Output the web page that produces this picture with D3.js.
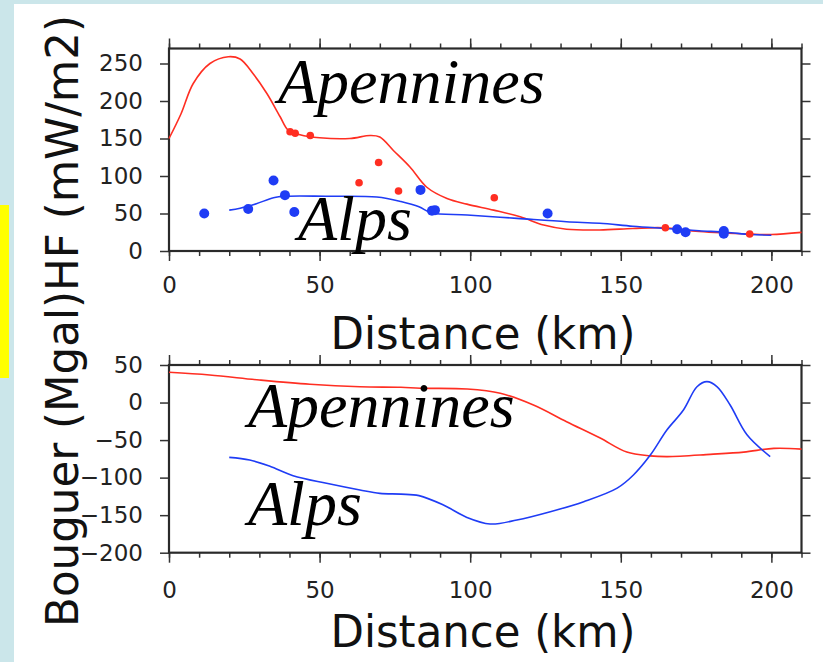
<!DOCTYPE html>
<html>
<head>
<meta charset="utf-8">
<script src="https://cdn.jsdelivr.net/npm/d3@7"></script>
<style>
  html, body { margin: 0; padding: 0; background: #cbe6ea; }
  svg { display: block; }
  .tick text { font-family: 'DejaVu Sans', sans-serif; font-size: 23px; fill: #222; }
  .tick line { stroke: #333; stroke-width: 1.5; }
</style>
</head>
<body>
<div id="chart"></div>
<script>
// tick values
const distanceTicks = [0, 50, 100, 150, 200];
const hfTicks = [0, 50, 100, 150, 200, 250];
const bouguerTicks = [-200, -150, -100, -50, 0, 50];

// heat flow profiles [distance km, mW/m2]
const apenninesHfCurve = [[0, 150], [4, 183], [8, 223], [13.6, 250], [19.7, 259], [23.6, 256], [28, 236], [32.5, 210],
  [36.9, 179], [39.6, 161], [43.5, 155], [50, 151], [60, 150], [66.8, 154], [70, 152], [74.5, 134], [80, 112],
  [85.6, 85], [92.3, 70], [98.9, 62.5], [107.8, 54.5], [116.6, 45.6], [124.4, 34.6], [132, 29], [143, 28],
  [154, 30], [164, 31], [176, 26], [193, 22.6], [200, 22], [210, 24.8]];
const alpsHfCurve = [[20, 54.5], [23.6, 57], [29, 63], [34.7, 71], [39, 73], [52, 73], [69, 72], [77, 66], [83, 59],
  [87, 51], [99, 48], [115.5, 43.5], [132, 39], [143, 37], [154, 33], [165, 30], [176, 27], [185, 25], [193, 22],
  [200, 21]];

// heat flow measurements
const apenninesHfPoints = [[40.2, 159], [41.9, 157], [46.9, 154], [63.1, 91], [69.6, 118], [76.2, 80], [108, 71],
  [164.8, 31], [192.8, 22.6]];
const alpsHfPoints = [[11.7, 50], [26.3, 56], [34.7, 94], [38.5, 74.5], [41.6, 52], [83.5, 81.5], [87.3, 53.6],
  [88.3, 54.5], [125.7, 50], [168.7, 29], [171.5, 25], [184.2, 26.6], [184.2, 23]];

// bouguer anomaly profiles [distance km, mgal]
const apenninesBouguer = [[0, 40.3], [13.5, 36.7], [30, 30], [46.8, 24.3], [63.4, 21], [77, 20.3], [83.4, 19],
  [99, 18], [110, 12.3], [121, -3.3], [132, -25.5], [143, -47], [152, -66], [159.7, -71], [165.5, -72],
  [179.7, -69], [190.8, -66], [200.8, -61], [210, -62]];
const alpsBouguer = [[20, -73], [26.8, -76.5], [33.5, -85], [41.2, -97.5], [52.3, -107.6], [63.4, -116.5],
  [70, -121], [77, -122], [83, -124], [91.1, -136.5], [98.9, -153], [106.6, -161.8], [115.5, -156.5],
  [126.6, -145.4], [137.7, -132], [148.8, -114], [154.2, -96.5], [159.8, -70], [165.3, -36.6], [170.8, -10],
  [175.3, 21], [178.6, 27.8], [182, 21], [186.3, -3.3], [191.9, -43], [199.6, -72]];

(function () {
  const WIDTH = 823;
  const HEIGHT = 662;
  const RED = '#ff2e22';
  const BLUE = '#1f3cf5';
  const minorTicks = d3.range(0, 211, 10);

  const svg = d3.select('#chart').append('svg')
    .attr('width', WIDTH)
    .attr('height', HEIGHT);

  // page background pieces
  svg.append('rect').attr('x', 14).attr('y', 4).attr('width', WIDTH - 14).attr('height', HEIGHT - 4).attr('fill', '#fff');
  svg.append('rect').attr('x', 0).attr('y', 205).attr('width', 9).attr('height', 173).attr('fill', '#ffff00');

  const x = d3.scaleLinear().domain([0, 210]).range([169, 801.5]);
  const yHf = d3.scaleLinear().domain([0, 270]).range([251, 48.5]);
  const yBg = d3.scaleLinear().domain([-200, 50]).range([552.7, 365]);

  function drawFrame (y, yTicks, labelPad) {
    const top = y.range()[1];
    const bottom = y.range()[0];
    const g = svg.append('g');

    g.append('g')
      .attr('transform', 'translate(' + x.range()[0] + ',0)')
      .call(d3.axisLeft(y).tickValues(yTicks).tickSize(9).tickPadding(17))
      .call(a => a.select('.domain').remove());
    g.append('g')
      .attr('transform', 'translate(' + x.range()[1] + ',0)')
      .call(d3.axisRight(y).tickValues(yTicks).tickSize(9).tickFormat(''))
      .call(a => a.select('.domain').remove());

    [['axisTop', top], ['axisBottom', bottom]].forEach(function (d) {
      g.append('g')
        .attr('transform', 'translate(0,' + d[1] + ')')
        .call(d3[d[0]](x).tickValues(minorTicks).tickSize(5).tickFormat(''))
        .call(a => a.select('.domain').remove());
    });
    g.append('g')
      .attr('transform', 'translate(0,' + top + ')')
      .call(d3.axisTop(x).tickValues(distanceTicks).tickSize(10).tickFormat(''))
      .call(a => a.select('.domain').remove());
    g.append('g')
      .attr('transform', 'translate(0,' + bottom + ')')
      .call(d3.axisBottom(x).tickValues(distanceTicks).tickSize(10).tickPadding(labelPad))
      .call(a => a.select('.domain').remove());

    g.append('rect')
      .attr('x', x.range()[0])
      .attr('y', top)
      .attr('width', x.range()[1] - x.range()[0])
      .attr('height', bottom - top)
      .attr('fill', 'none')
      .attr('stroke', '#2a2a2a')
      .attr('stroke-width', 2.2);
  }

  function drawCurve (data, y, color) {
    svg.append('path')
      .datum(data)
      .attr('fill', 'none')
      .attr('stroke', color)
      .attr('stroke-width', 1.6)
      .attr('d', d3.line()
        .x(d => x(d[0]))
        .y(d => y(d[1]))
        .curve(d3.curveCatmullRom.alpha(0.5)));
  }

  function drawPoints (data, y, color, r) {
    svg.append('g').selectAll('circle')
      .data(data)
      .join('circle')
      .attr('cx', d => x(d[0]))
      .attr('cy', d => y(d[1]))
      .attr('r', r)
      .attr('fill', color);
  }

  function addRegionLabel (text, px, py) {
    svg.append('text')
      .attr('x', px)
      .attr('y', py)
      .attr('font-family', "'Liberation Serif', 'Times New Roman', serif")
      .attr('font-style', 'italic')
      .attr('font-size', 64)
      .attr('fill', '#000')
      .text(text);
  }

  function addAxisTitle (text, px, py, len, rotate) {
    svg.append('text')
      .attr('transform', 'translate(' + px + ',' + py + ')' + (rotate ? ' rotate(-90)' : ''))
      .attr('text-anchor', 'middle')
      .attr('font-family', "'DejaVu Sans', sans-serif")
      .attr('font-size', 44)
      .attr('fill', '#111')
      .attr('textLength', len)
      .attr('lengthAdjust', 'spacingAndGlyphs')
      .text(text);
  }

  // heat flow panel
  drawFrame(yHf, hfTicks, 16);
  drawCurve(apenninesHfCurve, yHf, RED);
  drawCurve(alpsHfCurve, yHf, BLUE);
  drawPoints(alpsHfPoints, yHf, BLUE, 5);
  drawPoints(apenninesHfPoints, yHf, RED, 3.8);
  addRegionLabel('Apennines', 278, 103);
  addRegionLabel('Alps', 298, 240);
  addAxisTitle('Distance (km)', 483, 349, 305, false);

  // bouguer panel
  drawFrame(yBg, bouguerTicks, 19);
  drawCurve(apenninesBouguer, yBg, RED);
  drawCurve(alpsBouguer, yBg, BLUE);
  addRegionLabel('Apennines', 248, 427);
  addRegionLabel('Alps', 248, 525);
  addAxisTitle('Distance (km)', 483, 647, 305, false);

  addAxisTitle('Bouguer (Mgal)HF (mW/m2)', 78, 321, 612, true);
}());
</script>
</body>
</html>
